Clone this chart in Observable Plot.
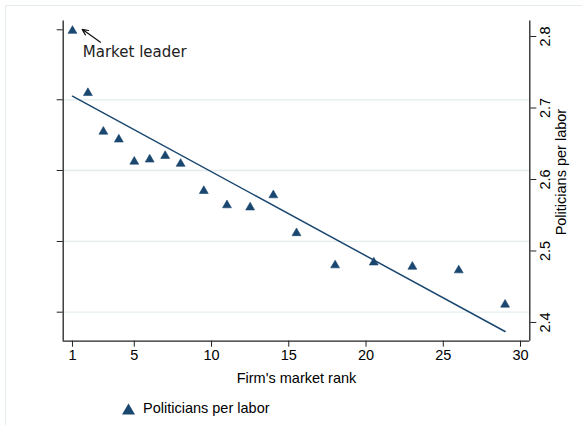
<!DOCTYPE html>
<html><head><meta charset="utf-8">
<script src="https://cdn.jsdelivr.net/npm/d3@7"></script>
<script src="https://cdn.jsdelivr.net/npm/@observablehq/plot@0.6"></script>
<style>
body{margin:0;background:#fff;overflow:hidden;width:582px;height:425px;position:relative;}
#frame{position:absolute;left:5px;top:5px;width:800px;height:800px;border-left:1px solid #e4ecec;border-top:1px solid #e4ecec;z-index:2;pointer-events:none;}
#chart{position:absolute;left:0;top:0;z-index:1;}
#legend{position:absolute;left:121px;top:401px;font:14.5px "Liberation Sans",Arial,sans-serif;color:#000;line-height:14.5px;white-space:nowrap;z-index:1;}
#legend svg{position:absolute;left:0;top:1px;}
#legend span{position:absolute;left:22px;top:0;}
</style></head><body>
<div id="chart"></div>
<div id="legend"></div>
<div id="frame"></div>
<script>
// Data
const rank = [1, 2, 3, 4, 5, 6, 7, 8, 9.5, 11, 12.5, 14, 15.5, 18, 20.5, 23, 26, 29];
const politiciansPerLabor = [2.808, 2.721, 2.667, 2.656, 2.625, 2.628, 2.633, 2.622, 2.584, 2.564, 2.561, 2.578, 2.525, 2.480, 2.484, 2.478, 2.473, 2.425];
const fitRank = [1, 29];
const fitValues = [2.7165, 2.3874];
const xTicks = [1, 5, 10, 15, 20, 25, 30];
const rightTicks = [2.4, 2.5, 2.6, 2.7, 2.8];
const leftTicks = [2.4144, 2.5133, 2.6126, 2.7115, 2.8094];
const gridTicks = [2.4144, 2.5133, 2.6126, 2.7115];
const xDomain = [0.4, 30.6];
const yDomain = [2.3738, 2.8217];
const xLabel = "Firm's market rank";
const yLabel = "Politicians per labor";
const annotationText = "Market leader";
const annotationLabel = {x: 1.67, y: 2.772};
const annotationArrow = {x1: 2.81, y1: 2.792, x2: 1.63, y2: 2.810};

const navy = "#1a476f";
const axisColor = "#222";
const points = rank.map((r, i) => ({rank: r, value: politiciansPerLabor[i]}));
const fit = fitRank.map((r, i) => ({rank: r, value: fitValues[i]}));

const chart = Plot.plot({
  width: 582,
  height: 395,
  marginLeft: 62.7,
  marginRight: 52.7,
  marginTop: 20.5,
  marginBottom: 54.3,
  style: {fontFamily: "'Liberation Sans', Arial, sans-serif", fontSize: "14.5px", color: "#000", background: "transparent"},
  x: {domain: xDomain},
  y: {domain: yDomain},
  marks: [
    Plot.gridY(gridTicks, {stroke: "#e3ecec", strokeOpacity: 1, strokeWidth: 1.3}),
    Plot.ruleX([xDomain[0], xDomain[1]], {stroke: axisColor, strokeWidth: 1.3}),
    Plot.ruleY([yDomain[0]], {stroke: axisColor, strokeWidth: 1.3}),
    Plot.axisX({ticks: xTicks, tickSize: 6, tickPadding: 3, label: null, stroke: axisColor}),
    Plot.axisY({anchor: "left", ticks: leftTicks, tickSize: 6, tickFormat: () => "", label: null, stroke: axisColor}),
    Plot.axisY({anchor: "right", ticks: rightTicks, tickSize: 6, tickFormat: () => "", label: null, stroke: axisColor}),
    Plot.text(rightTicks, {y: d => d, text: d => d.toFixed(1), frameAnchor: "right", rotate: -90, dx: 20, lineAnchor: "bottom", textAnchor: "middle"}),
    Plot.text([yLabel], {text: d => d, frameAnchor: "right", rotate: -90, dx: 35.7, dy: -9, lineAnchor: "bottom", textAnchor: "middle"}),
    Plot.text([xLabel], {text: d => d, frameAnchor: "bottom", dy: 41.3, lineAnchor: "bottom", textAnchor: "middle"}),
    Plot.line(fit, {x: "rank", y: "value", stroke: navy, strokeWidth: 1.5}),
    Plot.dot(points, {x: "rank", y: "value", symbol: "triangle", r: 3.3, fill: navy, stroke: navy, strokeWidth: 0.6}),
    Plot.arrow([annotationArrow], {x1: "x1", y1: "y1", x2: "x2", y2: "y2", stroke: "#111", strokeWidth: 1.2, headLength: 8, headAngle: 50}),
    Plot.text([annotationLabel], {x: "x", y: "y", text: () => annotationText, textAnchor: "start", lineAnchor: "bottom", fontFamily: "'DejaVu Sans', Verdana, sans-serif", fontSize: 15, fill: "#222"})
  ]
});
document.getElementById("chart").appendChild(chart);

// Legend
const legend = d3.select("#legend");
const lsvg = legend.append("svg").attr("width", 16).attr("height", 13);
lsvg.append("path").attr("d", "M1,12.5L7.5,1.5L14,12.5Z").attr("fill", navy);
legend.append("span").text(yLabel);
</script>
</body></html>
